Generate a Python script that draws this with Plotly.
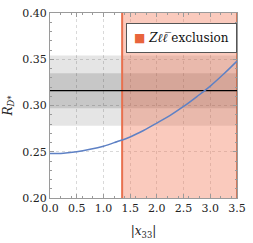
import plotly.graph_objects as go

# data
x33 = [0.0, 0.25, 0.5, 0.75, 1.0, 1.25, 1.5, 1.75, 2.0, 2.25, 2.5, 2.75, 3.0, 3.25, 3.5]
rdstar = [0.248, 0.2485, 0.250, 0.2526, 0.256, 0.2608, 0.266, 0.273, 0.281, 0.2894, 0.299, 0.3097, 0.321, 0.334, 0.348]
exp_central = 0.316
exp_1sigma = [0.297, 0.335]
exp_2sigma = [0.278, 0.354]
excl_xmin = 1.35
x_range = [0.0, 3.5]
y_range = [0.20, 0.40]
x_ticks = [0.0, 0.5, 1.0, 1.5, 2.0, 2.5, 3.0, 3.5]
x_ticklabels = ["0.0", "0.5", "1.0", "1.5", "2.0", "2.5", "3.0", "3.5"]
y_ticks = [0.20, 0.25, 0.30, 0.35, 0.40]
y_ticklabels = ["0.20", "0.25", "0.30", "0.35", "0.40"]
legend_label = "<i>Zℓℓ\u0305</i>\u00a0exclusion"

serif = "DejaVu Serif"
fig = go.Figure()

# experimental bands
fig.add_trace(go.Scatter(
    x=[x_range[0], x_range[1], x_range[1], x_range[0], x_range[0]],
    y=[exp_2sigma[0], exp_2sigma[0], exp_2sigma[1], exp_2sigma[1], exp_2sigma[0]],
    fill="toself", fillcolor="rgba(0,0,0,0.10)", line=dict(width=0),
    mode="lines", showlegend=False, hoverinfo="skip"))
fig.add_trace(go.Scatter(
    x=[x_range[0], x_range[1], x_range[1], x_range[0], x_range[0]],
    y=[exp_1sigma[0], exp_1sigma[0], exp_1sigma[1], exp_1sigma[1], exp_1sigma[0]],
    fill="toself", fillcolor="rgba(0,0,0,0.13)", line=dict(width=0),
    mode="lines", showlegend=False, hoverinfo="skip"))

# exclusion region
fig.add_trace(go.Scatter(
    x=[excl_xmin, x_range[1], x_range[1], excl_xmin, excl_xmin],
    y=[y_range[0], y_range[0], y_range[1], y_range[1], y_range[0]],
    fill="toself", fillcolor="rgba(242,110,75,0.37)", line=dict(width=0),
    mode="lines", showlegend=False, hoverinfo="skip"))
fig.add_trace(go.Scatter(
    x=[excl_xmin, excl_xmin], y=y_range, mode="lines",
    line=dict(color="#e8704e", width=2), showlegend=False, hoverinfo="skip"))
fig.add_trace(go.Scatter(
    x=[x_range[1], x_range[1]], y=y_range, mode="lines",
    line=dict(color="#c0603f", width=1.5), showlegend=False, hoverinfo="skip"))

# central value
fig.add_trace(go.Scatter(
    x=x_range, y=[exp_central, exp_central], mode="lines",
    line=dict(color="black", width=1.3), showlegend=False, hoverinfo="skip"))

# curve
fig.add_trace(go.Scatter(
    x=x33, y=rdstar, mode="lines", line=dict(color="#5e81c5", width=1.5, shape="spline"),
    showlegend=False))

axis_common = dict(
    showline=True, linecolor="#9a9a9a", linewidth=1, mirror="ticks",
    ticks="inside", ticklen=4, tickcolor="#9a9a9a",
    showgrid=True, gridcolor="#d9d9d9", griddash="dot", gridwidth=1,
    zeroline=False,
    ticklabeloverflow="allow",
    tickfont=dict(family=serif, size=11, color="#222"),
    minor=dict(ticks="inside", ticklen=2, tickcolor="#9a9a9a", showgrid=False, nticks=5),
)

fig.update_xaxes(range=x_range, tickvals=x_ticks, ticktext=x_ticklabels, **axis_common,
                 title=dict(text="|<i>x</i><sub>33</sub>|", font=dict(family=serif, size=12, color="#222"), standoff=12))
fig.update_yaxes(range=y_range, tickvals=y_ticks, ticktext=y_ticklabels, **axis_common,
                 title=dict(text="<i>R</i><sub><i>D*</i></sub>", font=dict(family=serif, size=12, color="#222"), standoff=7))

# legend box
fig.add_annotation(
    xref="paper", yref="paper", x=0.405, y=0.948, xanchor="left", yanchor="top",
    text="<span style='color:#e8643c'>■</span> " + legend_label,
    showarrow=False, align="left",
    font=dict(family=serif, size=12, color="#111"),
    bgcolor="white", bordercolor="#555", borderwidth=1, borderpad=7)

fig.update_layout(
    width=253, height=243,
    margin=dict(l=49, r=8, t=7, b=42),
    plot_bgcolor="white", paper_bgcolor="white",
    showlegend=False,
    font=dict(family=serif),
)

fig.write_html("out.html", config={"displayModeBar": False},
               post_script="document.body.style.margin='0';document.body.style.overflow='hidden';")
